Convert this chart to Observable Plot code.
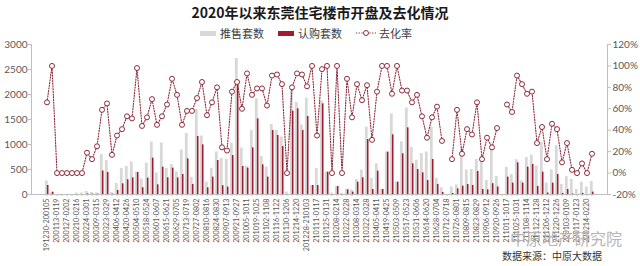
<!DOCTYPE html>
<html><head><meta charset="utf-8">
<script src="https://cdn.jsdelivr.net/npm/d3@7"></script>
<script src="https://cdn.jsdelivr.net/npm/@observablehq/plot@0.6"></script>
<style>
body{margin:0;background:#fff;}
#wrap{position:relative;width:640px;height:266px;overflow:hidden;font-family:"Noto Sans CJK SC","Noto Sans",sans-serif;}
#chart{position:absolute;left:0;top:0;}
#title{position:absolute;left:0;width:640px;top:2px;text-align:center;font-size:14px;font-weight:bold;color:#1a1a1a;line-height:20px;}
#legend{position:absolute;top:25px;left:200px;display:flex;align-items:center;font-size:11px;color:#404040;line-height:16px;}
#legend .it{display:flex;align-items:center;margin-right:14px;}
#legend .sw{width:16px;height:5px;margin-right:4px;}
#wm{position:absolute;left:510px;top:229px;font-size:16px;line-height:18px;color:#b5b5b5;}
#src{position:absolute;left:502px;top:250px;font-size:10px;line-height:12px;color:#333;}
</style></head>
<body><div id="wrap">
<div id="chart"></div>
<div id="title">2020年以来东莞住宅楼市开盘及去化情况</div>
<div id="legend"></div>
<div id="wm">中原地产研究院</div>
<div id="src">数据来源：中原大数据</div>
</div>
<script>
const weekLabels = ["191230-200105","200113-0119","200127-0202","200210-0216","200224-0301","200309-0315","200323-0329","200406-0412","200420-0426","200504-0510","200518-0524","200601-0607","200615-0621","200629-0705","200713-0719","200727-0802","200810-0816","200824-0830","200907-0913","200921-0927","201005-1011","201019-1025","201102-1108","201116-1122","201130-1206","201214-1220","201228-210103","210111-0117","210125-0131","210208-0214","210222-0228","210308-0314","210322-0328","210405-0411","210419-0425","210503-0509","210517-0523","210531-0606","210614-0620","210628-0704","210712-0718","210726-0801","210809-0815","210823-0829","210906-0912","210920-0926","211011-1017","211025-1031","211108-1114","211122-1128","211206-1212","211220-1226","220103-0109","220117-0123","220214-0220"];

const supply = [270,45,0,0,0,0,30,30,60,40,
30,800,680,40,220,520,560,650,450,310,
630,1050,430,1030,520,600,456,890,1220,345,
1700,1170,247,525,850,720,700,1030,2720,930,
567,1280,1915,760,550,1400,1280,1150,50,2080,
1840,1390,1925,180,520,1870,447,30,160,20,
106,90,300,490,1347,320,614,100,850,1612,
247,1056,1730,940,685,817,850,1346,323,133,
0,150,190,930,490,500,700,770,280,900,
360,0,542,400,695,273,740,790,570,1040,
230,493,975,200,357,300,100,247,150,260];

const sold = [180,45,0,0,0,0,0,0,12,5,
8,470,440,7,80,213,295,333,440,135,
327,727,193,547,333,527,333,400,713,200,
1160,993,133,347,680,175,147,780,2280,560,
527,933,1513,593,347,1280,1180,960,0,1667,
1713,1280,1560,180,180,1813,447,0,160,0,
93,47,247,333,1100,100,467,100,847,1193,
247,813,1333,613,500,433,280,700,200,40,
0,20,113,167,200,180,460,100,93,216,
150,0,347,227,633,227,547,600,160,447,
30,227,400,20,100,9,0,22,0,47];

const rate = [66,100,0,0,0,0,0,0,19,13,
25,59,65,17,35,41,53,51,98,44,
52,69,45,53,64,88,73,45,58,58,
70,85,54,66,80,24,21,76,85,60,
93,73,79,79,63,91,92,83,0,80,
93,92,81,100,35,97,100,0,100,0,
88,52,83,68,82,31,76,100,100,74,
100,77,77,66,73,53,33,52,62,30,
null,13,59,18,41,36,66,13,33,24,
42,null,64,57,91,83,74,76,28,43,
13,46,41,10,28,3,0,9,0,18];

const leftTicks = [0,500,1000,1500,2000,2500,3000];
const rightTicks = [-20,0,20,40,60,80,100,120];
const seriesNames = ["推售套数","认购套数","去化率"];

const GREY = "#d8d8d8", RED = "#a31b2f", LINE = "#8e2b3b";
const yMax = 3000, pMin = -20, pMax = 120;
const toY = p => (p - pMin) / (pMax - pMin) * yMax;
const fromY = v => Math.round(v / yMax * (pMax - pMin) + pMin);

const rows = d3.range(supply.length).map(i => ({
  i, supply: supply[i], sold: sold[i],
  ry: rate[i] == null ? NaN : toY(rate[i])
}));

const font = "Lato, 'Noto Sans', sans-serif";
const plot = Plot.plot({
  width: 640, height: 266,
  marginTop: 44, marginBottom: 72, marginLeft: 31, marginRight: 33,
  x: {type: "band", domain: d3.range(supply.length), paddingInner: 0, paddingOuter: 0.7, label: null},
  y: {domain: [0, yMax], label: null},
  style: {fontFamily: font, color: "#595959", background: "transparent"},
  marks: [
    Plot.barY(rows, {x: "i", y: "supply", fill: GREY, insetLeft: 0.9, insetRight: 1.3}),
    Plot.barY(rows, {x: "i", y: "sold", fill: RED, insetLeft: 2.9, insetRight: 0.5}),
    Plot.ruleY([0], {stroke: "#bfbfbf"}),
    Plot.line(rows, {x: "i", y: "ry", stroke: LINE, strokeDasharray: "1.2,1.5", strokeWidth: 1.1}),
    Plot.dot(rows, {x: "i", y: "ry", r: 2.5, stroke: LINE, fill: "white", strokeWidth: 1}),
    Plot.axisY(leftTicks, {anchor: "left", label: null, tickFormat: d => String(d), tickSize: 3, tickPadding: 1, fontSize: 10, stroke: "#bfbfbf"}),
    Plot.axisY(rightTicks.map(toY), {anchor: "right", label: null, tickFormat: v => fromY(v) + "%", tickSize: 3, tickPadding: 2, fontSize: 10, stroke: "#bfbfbf"}),
    Plot.axisX(d3.range(supply.length), {label: null, tickFormat: i => i % 2 ? "" : weekLabels[i / 2], tickRotate: -90, fontSize: 7.2, tickSize: 2, tickPadding: 2, stroke: "#bfbfbf"}),
    Plot.frame({anchor: "left", stroke: "#bfbfbf"}),
    Plot.frame({anchor: "right", stroke: "#bfbfbf"})
  ]
});
document.getElementById("chart").appendChild(plot);

const lg = document.getElementById("legend");
const swatches = [
  `<span class="sw" style="background:${GREY}"></span>`,
  `<span class="sw" style="background:${RED}"></span>`,
  `<svg width="20" height="8" style="margin-right:3px"><line x1="0" y1="4" x2="20" y2="4" stroke="${LINE}" stroke-dasharray="1.2,1.5"/><circle cx="10" cy="4" r="2.5" fill="white" stroke="${LINE}"/></svg>`
];
seriesNames.forEach((n, k) => {
  const d = document.createElement("span");
  d.className = "it";
  d.innerHTML = swatches[k] + `<span>${n}</span>`;
  lg.appendChild(d);
});
</script>
</body></html>
